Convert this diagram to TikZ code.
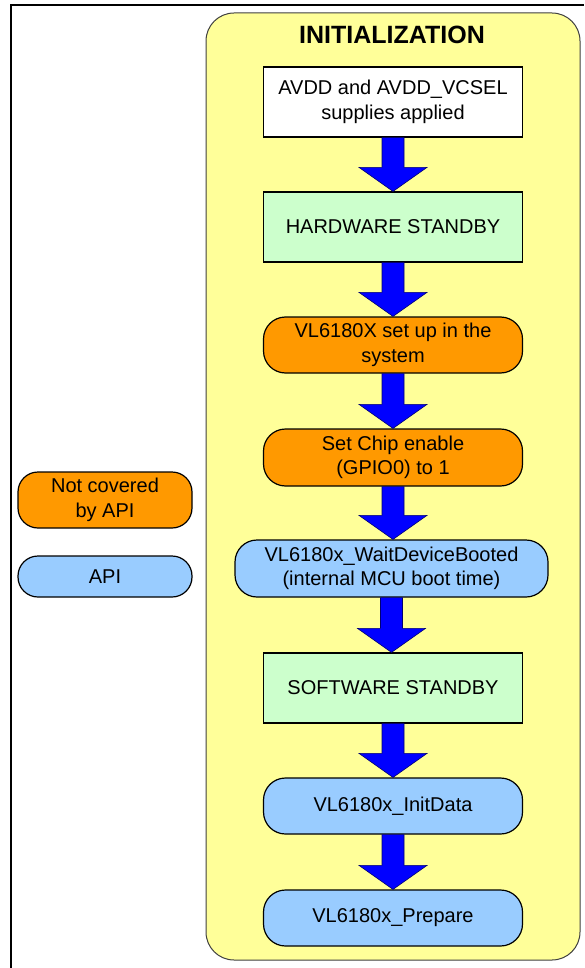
\documentclass[tikz,border=0pt]{standalone}
\usepackage{fontspec}
\setmainfont{Liberation Sans}
\usetikzlibrary{calc}
\definecolor{contyellow}{HTML}{FFFF99}
\definecolor{boxorange}{HTML}{FF9900}
\definecolor{boxblue}{HTML}{99CCFF}
\definecolor{boxgreen}{HTML}{CCFFCC}
\definecolor{arrowblue}{HTML}{0000FF}
\tikzset{
  base/.style={draw=black, line width=1.2pt, inner sep=0pt, align=center,
    font=\fontsize{20}{24.5}\selectfont, anchor=center},
  sqbox/.style={base, rectangle, minimum width=259pt, minimum height=70pt},
  rbox/.style={base, rectangle, rounded corners=22pt, minimum width=259pt, minimum height=56pt},
  legbox/.style={base, rectangle, rounded corners=20pt, minimum width=174pt},
  blk/.style={fill=arrowblue, draw=black!55!blue, line width=0.6pt},
}
\newcommand\blkarrow[2]{%
  \path[blk] let \p1=(#1.south), \p2=(#2.north) in
    (\x1-11pt,\y1) -- (\x1+11pt,\y1) -- (\x1+11pt,\y2+24pt) -- (\x1+34pt,\y2+24pt)
    -- (\x1,\y2) -- (\x1-34pt,\y2+24pt) -- (\x1-11pt,\y2+24pt) -- cycle;}
\begin{document}
\begin{tikzpicture}[x=1pt,y=-1pt]
\useasboundingbox (0,0) rectangle (584,968);
% outer frame
\draw[line width=2pt] (11,968) -- (11,5.5) -- (584,5.5);
% container
\node[draw=black!75, line width=1pt, fill=contyellow, rounded corners=28pt,
  minimum width=374pt, minimum height=947pt, inner sep=0pt] (cont) at (393,486.5) {};
\node[font=\fontsize{25}{29}\selectfont\bfseries, inner sep=0pt] (title) at (392,35) {INITIALIZATION};
% flow boxes
\node[sqbox, fill=white] (supply) at (393,102) {AVDD and AVDD\_VCSEL\\supplies applied};
\node[sqbox, fill=boxgreen] (hw) at (393,227) {HARDWARE STANDBY};
\node[rbox, fill=boxorange] (setup) at (393,345) {VL6180X set up in the\\system};
\node[rbox, fill=boxorange, minimum height=57pt] (chip) at (393,457.5) {Set Chip enable\\(GPIO0) to 1};
\node[rbox, fill=boxblue, minimum width=313pt, minimum height=57pt] (boot) at (391.5,568.5) {VL6180x\_WaitDeviceBooted\\(internal MCU boot time)};
\node[sqbox, fill=boxgreen] (sw) at (393,688) {SOFTWARE STANDBY};
\node[rbox, fill=boxblue] (init) at (393,806) {VL6180x\_InitData};
\node[rbox, fill=boxblue] (prep) at (393,918) {VL6180x\_Prepare};
% arrows
\blkarrow{supply}{hw}
\blkarrow{hw}{setup}
\blkarrow{setup}{chip}
\blkarrow{chip}{boot}
\blkarrow{boot}{sw}
\blkarrow{sw}{init}
\blkarrow{init}{prep}
% legend
\node[legbox, fill=boxorange, minimum height=56pt] (legnc) at (105,500) {Not covered\\by API};
\node[legbox, fill=boxblue, minimum height=41pt] (legapi) at (105,576.5) {API};
\end{tikzpicture}
\end{document}
